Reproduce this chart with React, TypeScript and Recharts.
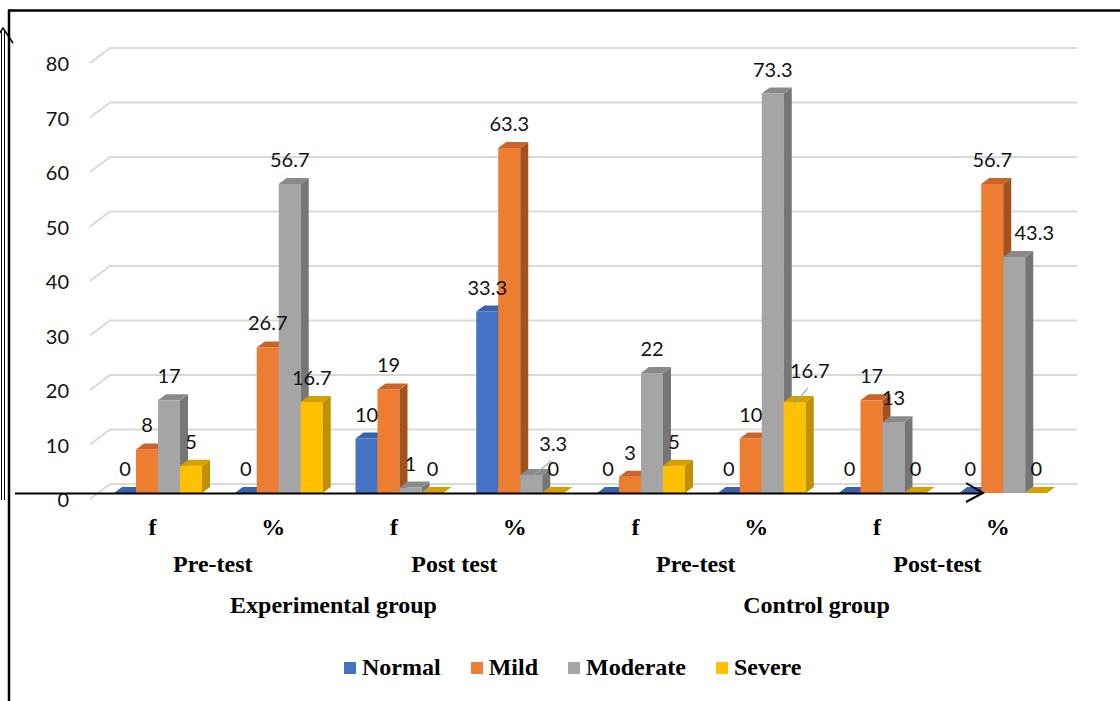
import React from "react";
import { BarChart, Bar, XAxis, YAxis, CartesianGrid, LabelList, Legend } from "recharts";

// categories / grouping levels
const CATEGORIES = ["f", "%", "f", "%", "f", "%", "f", "%"];
const STAGES = ["Pre-test", "Post test", "Pre-test", "Post-test"];
const GROUPS = ["Experimental group", "Control group"];

// series values
const NORMAL = [0, 0, 10, 33.3, 0, 0, 0, 0];
const MILD = [8, 26.7, 19, 63.3, 3, 10, 17, 56.7];
const MODERATE = [17, 56.7, 1, 3.3, 22, 73.3, 13, 43.3];
const SEVERE = [5, 16.7, 0, 0, 5, 16.7, 0, 0];

const Y_TICKS = [0, 10, 20, 30, 40, 50, 60, 70, 80];

const SERIES = [
  { key: "Normal", values: NORMAL, front: "#4472C4", top: "#3A63AE", side: "#2F528F" },
  { key: "Mild", values: MILD, front: "#ED7D31", top: "#C9652A", side: "#A4521D" },
  { key: "Moderate", values: MODERATE, front: "#A5A5A5", top: "#8A8A8A", side: "#767676" },
  { key: "Severe", values: SEVERE, front: "#FFC000", top: "#D4A000", side: "#BF9000" },
];

// labels Excel pushed aside to avoid overlaps
const NUDGES: Record<string, { dx: number; dy: number; leader?: boolean }> = {
  "Moderate-3": { dx: 22, dy: -7, leader: true },
  "Severe-5": { dx: 15, dy: -7, leader: true },
  "Moderate-7": { dx: 20, dy: 0 },
};

const data = CATEGORIES.map((c, i) => {
  const row: Record<string, string | number> = { name: `${c}-${i}`, label: c };
  SERIES.forEach((s) => (row[s.key] = s.values[i]));
  return row;
});

const DX = 8; // depth of the 3d bars
const DY = 6;
const NUM_FONT = "Lato, 'Open Sans', sans-serif";
const SERIF = "'Liberation Serif', 'Times New Roman', serif";

function Bar3D(props: any) {
  const { x, y, width, height, colors } = props;
  const h = Math.max(0, height || 0);
  return (
    <g>
      <rect x={x} y={y} width={width} height={h} fill={colors.front} />
      <polygon
        points={`${x + width},${y} ${x + width + DX},${y - DY} ${x + width + DX},${y + h - DY} ${x + width},${y + h}`}
        fill={colors.side}
      />
      <polygon
        points={`${x},${y} ${x + DX},${y - DY} ${x + width + DX},${y - DY} ${x + width},${y}`}
        fill={colors.top}
      />
    </g>
  );
}

const makeLabel = (seriesKey: string) => (props: any) => {
  const vb = props.viewBox || props;
  const x = Number(vb.x ?? props.x);
  const y = Number(vb.y ?? props.y);
  const w = Number(vb.width ?? props.width);
  const h = Number(vb.height ?? props.height ?? 0);
  const top = h < 0 ? y + h : y;
  const cx = x + w / 2;
  const n = NUDGES[`${seriesKey}-${props.index}`] || { dx: 0, dy: 0 };
  const ly = top - 25 + n.dy;
  return (
    <g>
      {n.leader && (
        <line x1={cx} y1={top + 2} x2={cx + n.dx - 2} y2={ly + 18} stroke="#A6A6A6" strokeWidth={1.2} />
      )}
      <text
        x={cx + n.dx}
        y={ly}
        textAnchor="middle"
        dominantBaseline="central"
        fontFamily={NUM_FONT}
        fontSize={20}
        fill="#111"
      >
        {props.value}
      </text>
    </g>
  );
};

function YTick({ y, payload }: any) {
  return (
    <text x={69} y={y + 6} textAnchor="end" dominantBaseline="central" fontFamily={NUM_FONT} fontSize={20} fill="#111">
      {payload.value}
    </text>
  );
}

function XTick({ x, y, payload }: any) {
  const i = payload.index;
  const half = payload.offset || 60;
  const cx = x - 6;
  return (
    <g fontFamily={SERIF} fontWeight="bold" fontSize={24} fill="#000" textAnchor="middle">
      <text x={cx} y={y + 42}>{CATEGORIES[i]}</text>
      {i % 2 === 0 && <text x={cx + half} y={y + 79}>{STAGES[i / 2]}</text>}
      {i % 4 === 1 && <text x={cx + half} y={y + 120}>{GROUPS[(i - 1) / 4]}</text>}
    </g>
  );
}

function GridLine(p: any) {
  const { x1, x2, y1 } = p;
  return (
    <path
      key={p.key ?? `g-${y1}`}
      d={`M ${x1 - 8} ${y1 + 6} L ${x1 + 12} ${y1 - 9} L ${x2 + 13} ${y1 - 9}`}
      stroke="#D9D9D9"
      strokeWidth={2}
      fill="none"
    />
  );
}

function LegendContent() {
  return (
    <div style={{ display: "flex", alignItems: "center", fontFamily: SERIF, fontWeight: "bold", fontSize: 24, color: "#000", whiteSpace: "nowrap" }}>
      {SERIES.map((s, i) => (
        <span key={s.key} style={{ display: "flex", alignItems: "center", marginLeft: i === 0 ? 0 : 30 }}>
          <span style={{ width: 12, height: 12, background: s.front, marginRight: 6, display: "inline-block" }} />
          {s.key}
        </span>
      ))}
    </div>
  );
}

export default function App() {
  return (
    <div style={{ position: "fixed", left: 0, top: 0, width: 1120, height: 701, background: "#fff" }}>
      <BarChart
        width={1120}
        height={701}
        data={data}
        margin={{ top: 57, right: 56, left: 0, bottom: 0 }}
        barGap={0}
        barSize={22}
      >
        <CartesianGrid vertical={false} horizontal={GridLine as any} />
        <XAxis
          dataKey="name"
          height={208}
          interval={0}
          axisLine={false}
          tickLine={false}
          tickSize={0}
          tickMargin={0}
          tick={<XTick />}
        />
        <YAxis
          width={98}
          domain={[0, 80]}
          ticks={Y_TICKS}
          axisLine={false}
          tickLine={false}
          tick={<YTick />}
        />
        <Legend
          layout="horizontal"
          verticalAlign="middle"
          align="center"
          wrapperStyle={{ position: "absolute", top: 654, left: 344, width: "auto" }}
          content={<LegendContent />}
        />
        {SERIES.map((s) => (
          <Bar
            key={s.key}
            dataKey={s.key}
            fill={s.front}
            isAnimationActive={false}
            shape={(p: any) => <Bar3D {...p} colors={s} />}
          >
            <LabelList dataKey={s.key} content={makeLabel(s.key)} />
          </Bar>
        ))}
      </BarChart>
      <svg width={1120} height={701} style={{ position: "absolute", left: 0, top: 0, pointerEvents: "none" }}>
        {/* frame */}
        <line x1={8} y1={10.5} x2={1120} y2={10.5} stroke="#000" strokeWidth={2.5} />
        <line x1={9} y1={10} x2={9} y2={701} stroke="#000" strokeWidth={2.5} />
        {/* y arrow */}
        <line x1={1.5} y1={30} x2={1.5} y2={500} stroke="#000" strokeWidth={1} />
        <line x1={4.5} y1={30} x2={4.5} y2={500} stroke="#000" strokeWidth={1} />
        <polyline points="-7,43 3,28 13,43" stroke="#000" strokeWidth={1.5} fill="none" />
        {/* x arrow */}
        <line x1={15} y1={493.5} x2={982} y2={493.5} stroke="#000" strokeWidth={2} />
        <polyline points="966,483 983,493 966,502" stroke="#000" strokeWidth={2} fill="none" />
      </svg>
    </div>
  );
}
